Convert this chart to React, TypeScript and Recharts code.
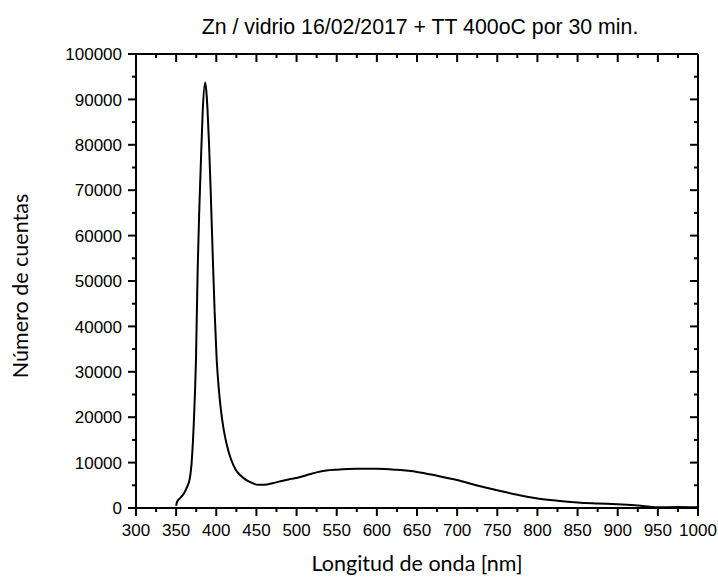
import React from "react";
import { LineChart, Line, XAxis, YAxis, Label } from "recharts";

// wavelength (nm) and counts
const wavelengths = [
  350, 351, 355, 360, 363, 367, 369.5, 371.8, 374.7, 376.8, 378.7, 380.5, 383, 386,
  387.5, 389, 391, 393, 395.5, 398, 400.5, 403, 405.5, 408.7, 413, 418, 424, 430,
  438, 445, 452, 460, 470, 480, 490, 500, 512, 525, 537, 550, 575, 600, 625, 650,
  675, 700, 725, 750, 775, 800, 825, 850, 875, 900, 925, 940, 950, 975, 1000,
];
const counts = [
  500, 1300, 2200, 3300, 4400, 6500, 10500, 18000, 32700, 52500, 65000, 74500, 87000, 93700,
  92000, 88000, 80000, 70000, 56000, 43000, 32700, 26500, 22000, 17800, 14000, 10900, 8500, 7200,
  6100, 5500, 5100, 5100, 5450, 5900, 6300, 6600, 7200, 7850, 8250, 8450, 8650, 8650, 8400, 7950,
  7100, 6150, 4950, 3900, 2900, 2100, 1600, 1230, 1000, 800, 550, 300, 150, 200, 150,
];

const xTicks = [
  300, 325, 350, 375, 400, 425, 450, 475, 500, 525, 550, 575, 600, 625, 650, 675, 700,
  725, 750, 775, 800, 825, 850, 875, 900, 925, 950, 975, 1000,
];
const yTicks = [
  0, 5000, 10000, 15000, 20000, 25000, 30000, 35000, 40000, 45000, 50000, 55000, 60000,
  65000, 70000, 75000, 80000, 85000, 90000, 95000, 100000,
];

const data = wavelengths.map((wl, i) => ({ wl, counts: counts[i] }));

const tickFont = { fontFamily: "'Liberation Sans', Arial, sans-serif", fontSize: 17, fill: "#000" };
const titleFont = "Lato, 'Noto Sans', sans-serif";

const BottomTick = (props: any) => {
  const { x, y, payload } = props;
  const major = payload.value % 50 === 0;
  return (
    <g>
      <line x1={x} y1={y} x2={x} y2={y + (major ? 8 : 4)} stroke="#000" strokeWidth={2} />
      {major && (
        <text x={x} y={y + 28} textAnchor="middle" {...tickFont}>
          {payload.value}
        </text>
      )}
    </g>
  );
};

const TopTick = (props: any) => {
  const { x, y, payload } = props;
  const major = payload.value % 50 === 0;
  return <line x1={x} y1={y} x2={x} y2={y + (major ? 8 : 4)} stroke="#000" strokeWidth={2} />;
};

const LeftTick = (props: any) => {
  const { x, y, payload } = props;
  const major = payload.value % 10000 === 0;
  return (
    <g>
      <line x1={x} y1={y} x2={x - (major ? 8 : 4)} y2={y} stroke="#000" strokeWidth={2} />
      {major && (
        <text x={x - 14} y={y} dy="0.36em" textAnchor="end" {...tickFont}>
          {payload.value}
        </text>
      )}
    </g>
  );
};

const RightTick = (props: any) => {
  const { x, y, payload } = props;
  const major = payload.value % 10000 === 0;
  return <line x1={x} y1={y} x2={x - (major ? 8 : 4)} y2={y} stroke="#000" strokeWidth={2} />;
};

export default function App() {
  return (
    <div style={{ position: "absolute", left: 0, top: 0, width: 718, height: 578, background: "#fff" }}>
      <LineChart width={718} height={578} data={data} margin={{ top: 0, right: 0, bottom: 0, left: 0 }}>
        <XAxis
          dataKey="wl"
          type="number"
          domain={[300, 1000]}
          ticks={xTicks}
          interval={0}
          height={70}
          tickSize={0}
          tickMargin={0}
          tickLine={false}
          tick={<BottomTick />}
          axisLine={{ stroke: "#000", strokeWidth: 2 }}
        >
          <Label
            value="Longitud de onda [nm]"
            position="insideBottom"
            offset={7}
            style={{ fontFamily: titleFont, fontSize: 21.5, fill: "#000" }}
          />
        </XAxis>
        <XAxis
          xAxisId="top"
          orientation="top"
          dataKey="wl"
          type="number"
          domain={[300, 1000]}
          ticks={xTicks}
          interval={0}
          height={54}
          tickSize={0}
          tickMargin={0}
          tickLine={false}
          tick={<TopTick />}
          axisLine={{ stroke: "#000", strokeWidth: 2 }}
        >
          <Label
            value="Zn / vidrio 16/02/2017 + TT 400oC por 30 min."
            position="insideTop"
            offset={19}
            dx={3}
            style={{ fontFamily: "'Liberation Sans', Arial, sans-serif", fontSize: 21.3, fill: "#000" }}
          />
        </XAxis>
        <YAxis
          type="number"
          domain={[0, 100000]}
          ticks={yTicks}
          interval={0}
          width={136}
          tickSize={0}
          tickMargin={0}
          tickLine={false}
          tick={<LeftTick />}
          axisLine={{ stroke: "#000", strokeWidth: 2 }}
        >
          <Label
            value="Número de cuentas"
            angle={-90}
            position="insideLeft"
            offset={20}
            dy={5}
            style={{ fontFamily: titleFont, fontSize: 21.5, fill: "#000", textAnchor: "middle" }}
          />
        </YAxis>
        <YAxis
          yAxisId="right"
          orientation="right"
          type="number"
          domain={[0, 100000]}
          ticks={yTicks}
          interval={0}
          width={20}
          tickSize={0}
          tickMargin={0}
          tickLine={false}
          tick={<RightTick />}
          axisLine={{ stroke: "#000", strokeWidth: 2 }}
        />
        {/* invisible copy so the mirrored frame axes get a domain */}
        <Line
          xAxisId="top"
          yAxisId="right"
          type="monotone"
          dataKey="counts"
          stroke="none"
          dot={false}
          activeDot={false}
          isAnimationActive={false}
        />
        <Line
          type="monotone"
          dataKey="counts"
          stroke="#000"
          strokeWidth={2}
          dot={false}
          activeDot={false}
          isAnimationActive={false}
        />
      </LineChart>
    </div>
  );
}
